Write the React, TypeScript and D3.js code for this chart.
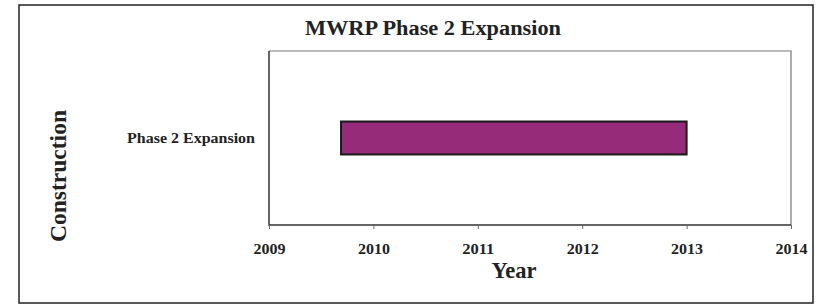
import * as d3 from "d3";
import { useEffect, useRef } from "react";

// chart data
const tasks = ["Phase 2 Expansion"];
const taskStart = [2009.69]; // ~ Sept 2009
const taskEnd = [2013.0]; // ~ Jan 2013
const yearTicks = [2009, 2010, 2011, 2012, 2013, 2014];

const W = 817;
const H = 304;
const FONT = "'Liberation Serif', 'Times New Roman', serif";

export default function App() {
  const svgRef = useRef<SVGSVGElement | null>(null);

  useEffect(() => {
    const svg = d3.select(svgRef.current);
    svg.selectAll("*").remove();

    const margin = { top: 51, right: 26, bottom: 79, left: 269 };
    const x = d3
      .scaleLinear()
      .domain([yearTicks[0], yearTicks[yearTicks.length - 1]])
      .range([margin.left, W - margin.right]);
    const y = d3
      .scaleBand()
      .domain(tasks)
      .range([margin.top, H - margin.bottom])
      .paddingInner(0)
      .paddingOuter(2.14);

    // outer frame
    svg
      .append("rect")
      .attr("x", 19)
      .attr("y", 5)
      .attr("width", 794)
      .attr("height", 298)
      .attr("fill", "#fff")
      .attr("stroke", "#222")
      .attr("stroke-width", 1.5);

    // plot frame: light top/right, dark left/bottom
    const [x0, x1] = x.range();
    const y0 = margin.top;
    const y1 = H - margin.bottom;
    svg
      .append("path")
      .attr("d", `M${x0},${y0}H${x1}V${y1}`)
      .attr("fill", "none")
      .attr("stroke", "#777")
      .attr("stroke-width", 1.2);
    svg
      .append("path")
      .attr("d", `M${x0},${y0}V${y1}H${x1}`)
      .attr("fill", "none")
      .attr("stroke", "#333")
      .attr("stroke-width", 1.5);

    // x axis
    const xAxis = svg
      .append("g")
      .attr("transform", `translate(0,${y1})`)
      .call(
        d3
          .axisBottom(x)
          .tickValues(yearTicks)
          .tickFormat(d3.format("d"))
          .tickSize(4)
          .tickPadding(14)
      );
    xAxis.select(".domain").remove();
    xAxis.selectAll("line").attr("stroke", "#666");
    xAxis
      .selectAll("text")
      .attr("font-family", FONT)
      .attr("font-size", 15)
      .attr("font-weight", "bold")
      .attr("fill", "#222")
      .attr("textLength", 32)
      .attr("lengthAdjust", "spacingAndGlyphs");

    // y axis category labels
    const yAxis = svg
      .append("g")
      .attr("transform", `translate(${x0},0)`)
      .call(d3.axisLeft(y).tickSize(0).tickPadding(14));
    yAxis.select(".domain").remove();
    yAxis
      .selectAll("text")
      .attr("font-family", FONT)
      .attr("font-size", 14.5)
      .attr("font-weight", "bold")
      .attr("fill", "#222")
      .attr("textLength", 128)
      .attr("lengthAdjust", "spacingAndGlyphs");

    // bars
    svg
      .append("g")
      .selectAll("rect")
      .data(tasks)
      .join("rect")
      .attr("x", (_, i) => x(taskStart[i]))
      .attr("y", (d) => y(d)!)
      .attr("width", (_, i) => x(taskEnd[i]) - x(taskStart[i]))
      .attr("height", y.bandwidth())
      .attr("fill", "#962c79")
      .attr("stroke", "#1a1a1a")
      .attr("stroke-width", 2);

    // title
    svg
      .append("text")
      .attr("x", 433)
      .attr("y", 35)
      .attr("text-anchor", "middle")
      .attr("font-family", FONT)
      .attr("font-size", 20)
      .attr("font-weight", "bold")
      .attr("fill", "#222")
      .attr("textLength", 256)
      .attr("lengthAdjust", "spacingAndGlyphs")
      .text("MWRP Phase 2 Expansion");

    // x axis title
    svg
      .append("text")
      .attr("x", 514)
      .attr("y", 278)
      .attr("text-anchor", "middle")
      .attr("font-family", FONT)
      .attr("font-size", 23)
      .attr("font-weight", "bold")
      .attr("fill", "#222")
      .attr("textLength", 45)
      .attr("lengthAdjust", "spacingAndGlyphs")
      .text("Year");

    // y axis title
    svg
      .append("text")
      .attr("transform", "translate(66,176) rotate(-90)")
      .attr("text-anchor", "middle")
      .attr("font-family", FONT)
      .attr("font-size", 23)
      .attr("font-weight", "bold")
      .attr("fill", "#222")
      .attr("textLength", 132)
      .attr("lengthAdjust", "spacingAndGlyphs")
      .text("Construction");
  }, []);

  return (
    <svg
      ref={svgRef}
      width={W}
      height={H}
      style={{ position: "absolute", left: 0, top: 0, background: "#fff" }}
    />
  );
}
